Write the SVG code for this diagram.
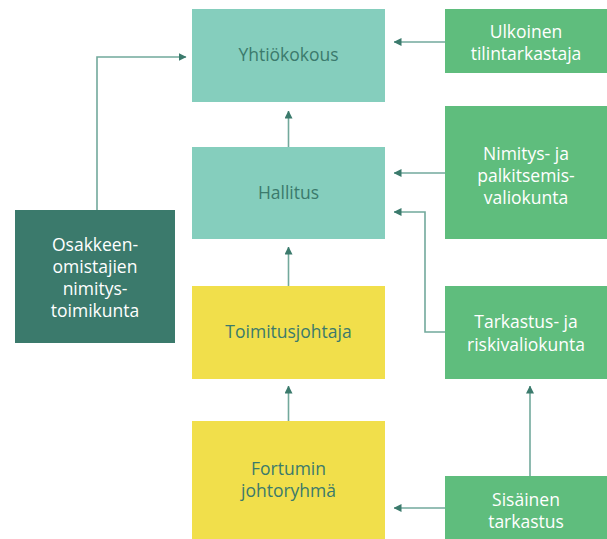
<svg xmlns="http://www.w3.org/2000/svg" width="607" height="539" viewBox="0 0 607 539">
<style>
.t{font-family:"Open Sans","Lato","Liberation Sans",sans-serif;font-size:17.5px;font-weight:500;text-anchor:middle}
.dk{fill:#3b7a6c}
.wh{fill:#ffffff}
.ln{fill:none;stroke:#72a99c;stroke-width:1.6}
</style>
<defs>
<marker id="ah" viewBox="0 0 8 8" refX="7.5" refY="4" markerWidth="8" markerHeight="8" markerUnits="userSpaceOnUse" orient="auto">
<path d="M0,0 L8,4 L0,8 Z" fill="#3b7a6c"/>
</marker>
</defs>
<rect width="607" height="539" fill="#ffffff"/>
<g id="connectors">
<path class="ln" d="M445,42 H394" marker-end="url(#ah)"/>
<path class="ln" d="M445,173 H394" marker-end="url(#ah)"/>
<path class="ln" d="M445,332 H425 V212 H394" marker-end="url(#ah)"/>
<path class="ln" d="M445,508 H394" marker-end="url(#ah)"/>
<path class="ln" d="M97,210 V57 H186" marker-end="url(#ah)"/>
<path class="ln" d="M288.5,147 V111" marker-end="url(#ah)"/>
<path class="ln" d="M288.5,286 V247" marker-end="url(#ah)"/>
<path class="ln" d="M288.5,421 V386" marker-end="url(#ah)"/>
<path class="ln" d="M530,476 V386" marker-end="url(#ah)"/>
</g>
<g id="yhtiokokous">
<rect x="192" y="9" width="193" height="93" fill="#85cebd"/>
<text class="t dk" x="288.5" y="61">Yhtiökokous</text>
</g>
<g id="hallitus">
<rect x="192" y="147" width="193" height="92" fill="#85cebd"/>
<text class="t dk" x="288.5" y="199">Hallitus</text>
</g>
<g id="toimitusjohtaja">
<rect x="192" y="286" width="193" height="93" fill="#f1df4b"/>
<text class="t dk" x="288.5" y="338">Toimitusjohtaja</text>
</g>
<g id="johtoryhma">
<rect x="192" y="421" width="193" height="118" fill="#f1df4b"/>
<text class="t dk" x="288.5" y="475">Fortumin</text>
<text class="t dk" x="288.5" y="497">johtoryhmä</text>
</g>
<g id="ulkoinen">
<rect x="445" y="9" width="162" height="64" fill="#5fbd7d"/>
<text class="t wh" x="526" y="38">Ulkoinen</text>
<text class="t wh" x="526" y="60">tilintarkastaja</text>
</g>
<g id="nimitys">
<rect x="445" y="106" width="162" height="133" fill="#5fbd7d"/>
<text class="t wh" x="526" y="160">Nimitys- ja</text>
<text class="t wh" x="526" y="182">palkitsemis-</text>
<text class="t wh" x="526" y="204">valiokunta</text>
</g>
<g id="tarkastus">
<rect x="445" y="286" width="162" height="93" fill="#5fbd7d"/>
<text class="t wh" x="526" y="328">Tarkastus- ja</text>
<text class="t wh" x="526" y="351">riskivaliokunta</text>
</g>
<g id="sisainen">
<rect x="445" y="476" width="162" height="63" fill="#5fbd7d"/>
<text class="t wh" x="526" y="506">Sisäinen</text>
<text class="t wh" x="526" y="528">tarkastus</text>
</g>
<g id="osakkeen">
<rect x="15" y="210" width="160" height="133" fill="#3b7a6c"/>
<text class="t wh" x="95" y="251">Osakkeen-</text>
<text class="t wh" x="95" y="273">omistajien</text>
<text class="t wh" x="95" y="295">nimitys-</text>
<text class="t wh" x="95" y="317">toimikunta</text>
</g>
</svg>
